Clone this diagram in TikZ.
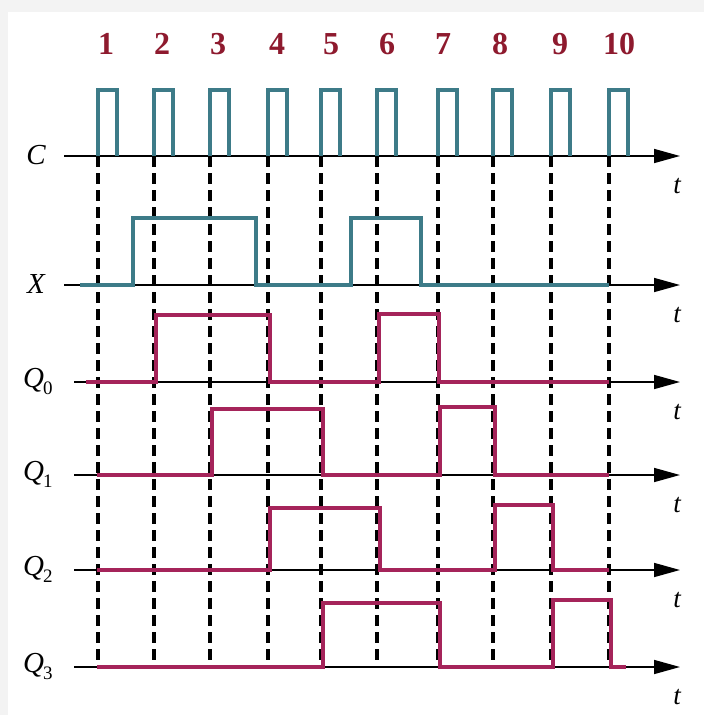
\documentclass[tikz,border=0pt]{standalone}
\usepackage{fontspec}
\setmainfont{Liberation Serif}
\usetikzlibrary{arrows.meta}
\definecolor{teal2}{HTML}{3D7B88}
\definecolor{crim}{HTML}{A5245A}
\definecolor{numred}{HTML}{8E1A2E}
\definecolor{bggrey}{HTML}{F3F3F3}
\tikzset{
  axis/.style={line width=1.6pt, black, -{Triangle[length=26pt,width=14pt]}},
  sigc/.style={line width=4pt, teal2, line join=miter},
  sigq/.style={line width=4.2pt, crim, line join=miter},
  clkdash/.style={line width=3.2pt, black, dash pattern=on 11pt off 6pt},
  numlbl/.style={text=numred, font=\fontsize{32}{32}\selectfont\bfseries, inner sep=0pt},
  siglbl/.style={font=\fontsize{29}{29}\selectfont\itshape, inner sep=0pt},
  tlbl/.style={font=\fontsize{27}{27}\selectfont\itshape, inner sep=0pt}
}
\newcommand{\qlab}[1]{\textit{Q}\kern-1pt\raisebox{-0.25em}{\fontsize{19}{19}\selectfont\upshape #1}}
\begin{document}
\begin{tikzpicture}[x=1pt,y=-1pt]
\useasboundingbox (0,0) rectangle (704,715);
\fill[bggrey] (0,0) rectangle (704,715);
\fill[white] (8,12) rectangle (704,715);
% edge coordinates
\foreach \i/\x in {1/98,2/154,3/210,4/268,5/321,6/377,7/438,8/493,9/551,10/609}{
  \coordinate (e\i) at (\x,0);
}
% axes
\foreach \n/\y/\xs in {C/156/64,X/285/64,Q0/382/74,Q1/475/74,Q2/570/74,Q3/667/74}{
  \coordinate (a\n) at (\xs,\y);
  \coordinate (b\n) at (680,\y);
  \draw[axis] (a\n) -- (b\n);
  \node[tlbl] (t\n) at (677,\y+30) {t};
}
% dashed clock lines
\foreach \i in {1,...,10}{
  \draw[clkdash] (e\i |- aC) -- (e\i |- aQ3);
}
% clock
\foreach \i in {1,...,10}{
  \draw[sigc] (e\i |- aC) -- ++(0,-66) -- ++(19,0) -- ++(0,66);
}
% X
\draw[sigc] (80,285) -- (133,285) -- (133,218) -- (256,218) -- (256,285) -- (351,285) -- (351,218) -- (421,218) -- (421,285) -- (609,285);
% Q0
\draw[sigq] (86,382) -- (156,382) -- (156,315) -- (270,315) -- (270,382) -- (379,382) -- (379,314) -- (439,314) -- (439,382) -- (609,382);
% Q1
\draw[sigq] (97,475) -- (212,475) -- (212,409) -- (323,409) -- (323,475) -- (440,475) -- (440,407) -- (495,407) -- (495,475) -- (609,475);
% Q2
\draw[sigq] (97,570) -- (270,570) -- (270,508) -- (380,508) -- (380,570) -- (495,570) -- (495,505) -- (553,505) -- (553,570) -- (609,570);
% Q3
\draw[sigq] (97,667) -- (323,667) -- (323,603) -- (440,603) -- (440,667) -- (553,667) -- (553,600) -- (611,600) -- (611,667) -- (626,667);
% numbers
\foreach \i/\x in {1/106,2/162,3/218,4/277,5/331,6/387,7/443,8/500,9/560,10/619}{
  \node[numlbl] (n\i) at (\x,44) {\i};
}
% signal labels
\node[siglbl] (lC) at (36,155) {C};
\node[siglbl] (lX) at (36,284) {X};
\node[siglbl, anchor=base west] (lQ0) at (23,387) {\qlab{0}};
\node[siglbl, anchor=base west] (lQ1) at (23,480) {\qlab{1}};
\node[siglbl, anchor=base west] (lQ2) at (23,575) {\qlab{2}};
\node[siglbl, anchor=base west] (lQ3) at (23,672) {\qlab{3}};
\end{tikzpicture}
\end{document}
